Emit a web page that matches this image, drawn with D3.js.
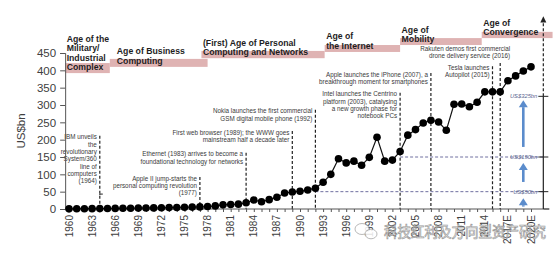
<!DOCTYPE html>
<html>
<head>
<meta charset="utf-8">
<script src="https://cdn.jsdelivr.net/npm/d3@7"></script>
<style>
  body { margin: 0; background: #fff; }
  svg { display: block; font-family: "Liberation Sans", Arial, sans-serif; }
</style>
</head>
<body>
<div id="chart"></div>
<script>
// market size, US$bn, by year (2017-2020 are estimates)
const years = d3.range(1960, 2021);
const values = [
  0.5, 0.6, 0.8, 1, 1.2, 1.5, 1.8, 2, 2.3, 2.6,
  3, 3.2, 3.5, 4, 4.5, 5, 5.5, 6, 7, 9,
  12, 13, 14, 18, 26, 21, 27, 34, 46, 49,
  51, 55, 60, 77, 100, 145, 133, 138, 126, 149,
  207, 138, 141, 166, 213, 229, 248, 256, 251, 227,
  302, 303, 295, 308, 338, 338, 338, 370, 384, 398,
  410
];
const tickYears = d3.range(1960, 2021, 3);
const yTicks = d3.range(0, 451, 50);

// ages: [start year, end year, low, high]
const ageSpans = [
  [1959.5, 1965.3, 392, 421],
  [1965.3, 1978.0, 410, 433],
  [1977.2, 1993.2, 435, 456],
  [1993.2, 2003.0, 453, 473],
  [2003.0, 2013.6, 473, 493],
  [2013.6, 2022.8, 493, 511]
];
const ageNames = [
  ["Age of the", "Military/", "Industrial", "Complex"],
  ["Age of Business", "Computing"],
  ["(First) Age of Personal", "Computing and Networks"],
  ["Age of", "the Internet"],
  ["Age of", "Mobility"],
  ["Age of", "Convergence"]
];

// events: year, how high the marker line goes (US$bn), text
const eventYears = [1964, 1977, 1983, 1989, 1992, 2003, 2007, 2015, 2016];
const eventTops = [211, 92, 162, 225, 286, 335, 392, 412, 421];
const eventTexts = [
  ["IBM unveils", "the", "revolutionary", "System/360", "line of", "computers", "(1964)"],
  ["Apple II jump-starts the", "personal computing revolution", "(1977)"],
  ["Ethernet (1983) arrives to become a", "foundational technology for networks"],
  ["First web browser (1989); the WWW goes", "mainstream half a decade later"],
  ["Nokia launches the first commercial", "GSM digital mobile phone (1992)"],
  ["Intel launches the Centrino", "platform (2003), catalysing", "a new growth phase for", "notebook PCs"],
  ["Apple launches the iPhone (2007), a", "breakthrough moment for smartphones"],
  ["Tesla launches", "Autopilot (2015)"],
  ["Rakuten demos first commercial", "drone delivery service (2016)"]
];

// reference levels on the right
const refLevels = [50, 150, 325];
const refFrom = [1992, 2003, null];
// blue growth arrows: [from, to] in US$bn
const growthArrows = [[7, 31], [78, 133], [179, 314]];

const width = 558, height = 259;
const svg = d3.select("#chart").append("svg")
  .attr("width", width).attr("height", height);

const x = d3.scaleLinear().domain([1960, 2020]).range([69, 531]);
const y = d3.scaleLinear().domain([0, 450]).range([209, 53]);
const xLeft = 1959.5, xRight = 2021.6;

// age bands
ageSpans.forEach((a, i) => {
  svg.append("rect")
    .attr("x", x(a[0])).attr("y", y(a[3]))
    .attr("width", x(a[1]) - x(a[0])).attr("height", y(a[2]) - y(a[3]))
    .attr("fill", "#dfb3b3");
  const lines = ageNames[i];
  const dx = i === 1 ? 7 : 1.5;
  const t = svg.append("text")
    .attr("x", x(a[0]) + dx)
    .attr("font-size", 8.7).attr("font-weight", "bold").attr("fill", "#1e1e1e");
  lines.forEach((l, j) => {
    t.append("tspan").attr("x", x(a[0]) + dx)
      .attr("y", y(a[2]) - 3 - (lines.length - 1 - j) * 9.5)
      .text(l);
  });
});

// reference dashed lines
refLevels.forEach((v, i) => {
  if (refFrom[i] == null) return;
  svg.append("line")
    .attr("x1", x(refFrom[i])).attr("x2", x(xRight))
    .attr("y1", y(v)).attr("y2", y(v))
    .attr("stroke", "#7070a0").attr("stroke-width", 1)
    .attr("stroke-dasharray", "3,2");
});

// event lines and notes
eventYears.forEach((yr, i) => {
  const ex = x(yr);
  svg.append("line")
    .attr("x1", ex).attr("x2", ex)
    .attr("y1", y(eventTops[i])).attr("y2", y(0))
    .attr("stroke", "#222").attr("stroke-width", 1.2)
    .attr("stroke-dasharray", "3,2");
  const lines = eventTexts[i];
  let tx = ex - 3, ty = y(eventTops[i]) + 3.5;
  if (yr === 2016) { tx = ex + 10; ty = y(eventTops[i]) - 12; }
  const t = svg.append("text")
    .attr("text-anchor", "end").attr("font-size", 6.3).attr("fill", "#3a3a3a");
  lines.forEach((l, j) => {
    t.append("tspan").attr("x", tx).attr("y", ty + j * 7.3).text(l);
  });
});
// small hook at the foot of the 1964 line
svg.append("path")
  .attr("d", `M${x(1964)},${y(40)}V${y(43)}H${x(1964) + 3}`)
  .attr("fill", "none").attr("stroke", "#222").attr("stroke-width", 1);

// left axis
const yAxis = svg.append("g")
  .attr("transform", `translate(${x(xLeft)},0)`)
  .call(d3.axisLeft(y).tickValues(yTicks).tickSize(5).tickPadding(4));
yAxis.select(".domain").attr("stroke", "#555");
yAxis.selectAll(".tick line").attr("stroke", "#555");
yAxis.selectAll("text").attr("font-size", 11.5).attr("fill", "#404040")
  .attr("font-family", "Liberation Sans, Arial, sans-serif");

svg.append("text")
  .attr("transform", `translate(25,${(y(0) + y(450)) / 2}) rotate(-90)`)
  .attr("text-anchor", "middle").attr("font-size", 11.5).attr("fill", "#404040")
  .text("US$bn");

// bottom axis
const xAxis = svg.append("g")
  .attr("transform", `translate(0,${y(0)})`)
  .call(d3.axisBottom(x).tickValues(years).tickSize(3).tickFormat(""));
xAxis.select(".domain").remove();
xAxis.selectAll(".tick line").attr("stroke", "#555");
svg.append("line")
  .attr("x1", x(xLeft)).attr("x2", x(xRight))
  .attr("y1", y(0)).attr("y2", y(0))
  .attr("stroke", "#555");
svg.append("g").selectAll("text")
  .data(tickYears)
  .join("text")
  .attr("transform", d => `translate(${x(d) + 3.5},${y(0) + 6}) rotate(-90)`)
  .attr("text-anchor", "end")
  .attr("font-size", 10).attr("fill", "#404040")
  .text(d => d >= 2017 ? d + "E" : d);

// right axis with reference ticks
const rx = x(xRight);
svg.append("line")
  .attr("x1", rx).attr("x2", rx).attr("y1", y(0)).attr("y2", y(325))
  .attr("stroke", "#222").attr("stroke-width", 1.2);
svg.append("line")
  .attr("x1", rx).attr("x2", rx).attr("y1", y(325)).attr("y2", y(545))
  .attr("stroke", "#222").attr("stroke-width", 1.2).attr("stroke-dasharray", "3,2");
svg.append("path")
  .attr("d", `M${rx},${y(556)}L${rx - 3},${y(538)}L${rx + 3},${y(538)}Z`)
  .attr("fill", "#222");
svg.append("line")
  .attr("x1", rx).attr("x2", rx + 6).attr("y1", y(0)).attr("y2", y(0))
  .attr("stroke", "#222").attr("stroke-width", 1.2);
refLevels.forEach(v => {
  svg.append("line")
    .attr("x1", rx - 5).attr("x2", rx + 5).attr("y1", y(v)).attr("y2", y(v))
    .attr("stroke", "#222").attr("stroke-width", 1);
  svg.append("text")
    .attr("x", rx - 6).attr("y", y(v) + 2)
    .attr("text-anchor", "end").attr("font-size", 5.8)
    .attr("font-style", "italic").attr("fill", "#5a6690")
    .text(`US$${v}bn`);
});

// blue arrows
const ax = x(2019);
growthArrows.forEach(([a, b]) => {
  const tip = y(b), base = y(b) + 7;
  svg.append("line")
    .attr("x1", ax).attr("x2", ax).attr("y1", y(a)).attr("y2", base)
    .attr("stroke", "#5b8ccc").attr("stroke-width", 2.6);
  svg.append("path")
    .attr("d", `M${ax},${tip}L${ax - 4.5},${base}L${ax + 4.5},${base}Z`)
    .attr("fill", "#5b8ccc");
});

// main series
const data = years.map((yr, i) => ({ year: yr, value: values[i] }));
svg.append("path")
  .datum(data)
  .attr("fill", "none").attr("stroke", "#111").attr("stroke-width", 1.2)
  .attr("d", d3.line().x(d => x(d.year)).y(d => y(d.value)));
svg.append("g").selectAll("circle")
  .data(data)
  .join("circle")
  .attr("cx", d => x(d.year)).attr("cy", d => y(d.value))
  .attr("r", 3.8).attr("fill", "#000");

// watermark
const wm = svg.append("g").attr("opacity", 0.85);
wm.append("ellipse").attr("cx", 362).attr("cy", 229).attr("rx", 7).attr("ry", 5.5)
  .attr("fill", "#fff").attr("stroke", "#999").attr("stroke-width", 0.8);
wm.append("ellipse").attr("cx", 371).attr("cy", 234).attr("rx", 6).attr("ry", 4.8)
  .attr("fill", "#fff").attr("stroke", "#999").attr("stroke-width", 0.8);
wm.append("text")
  .attr("x", 384).attr("y", 237)
  .attr("font-family", "Noto Sans CJK SC").attr("font-size", 15)
  .attr("textLength", 162).attr("lengthAdjust", "spacingAndGlyphs")
  .attr("fill", "#fff").attr("stroke", "#888").attr("stroke-width", 0.7)
  .text("科技红利及方向型资产研究");
</script>
</body>
</html>
